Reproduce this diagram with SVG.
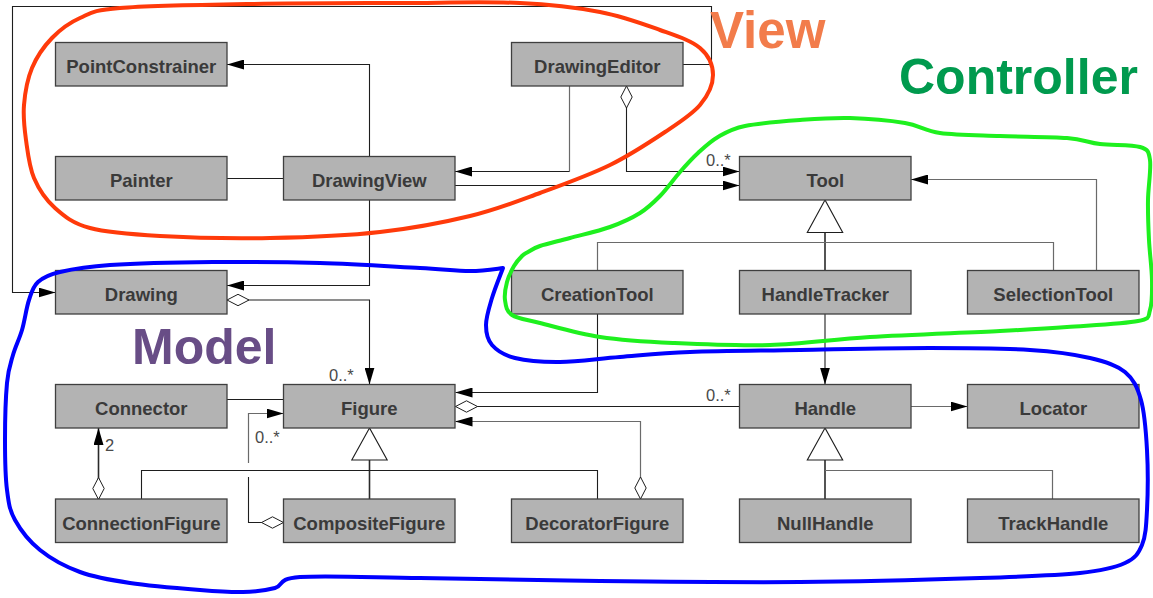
<svg xmlns="http://www.w3.org/2000/svg" width="1153" height="598" viewBox="0 0 1153 598">
  <defs>
    <style>
      .node rect { fill: #b3b3b3; stroke: #3f3f3f; stroke-width: 1.3; }
      .node text { font-family: "Liberation Sans", Arial, sans-serif; font-weight: bold; font-size: 18.5px; fill: #3a3a3a; text-anchor: middle; }
      .ln { fill: none; stroke: #1e1e1e; stroke-width: 1.1; }
      .gr { fill: none; stroke: #6a6a6a; stroke-width: 1.2; }
      .stem { fill: none; stroke: #2a2a2a; stroke-width: 1.6; }
      .tri { fill: #ffffff; stroke: #1e1e1e; stroke-width: 1.1; }
      .mult { font-family: "Liberation Sans", Arial, sans-serif; font-size: 16.5px; fill: #4a4a4a; }
      .arrow { marker-end: url(#head); }
      .agg { marker-start: url(#diamond); }
      .loop { fill: none; stroke-width: 4; stroke-linecap: round; stroke-linejoin: round; }
      .tag { font-family: "Liberation Sans", Arial, sans-serif; font-weight: bold; }
    </style>
    <marker id="head" viewBox="0 0 17 10" refX="17" refY="5" markerWidth="17" markerHeight="10" markerUnits="userSpaceOnUse" orient="auto">
      <path d="M0,0 L17,5 L0,10 Z" fill="#000000"/>
    </marker>
    <marker id="diamond" viewBox="-1 -1 24 14" refX="0" refY="6" markerWidth="24" markerHeight="14" markerUnits="userSpaceOnUse" orient="auto">
      <path d="M0,6 L11,0.3 L22,6 L11,11.7 Z" fill="#ffffff" stroke="#1e1e1e" stroke-width="1"/>
    </marker>
  </defs>

  <rect x="0" y="0" width="1153" height="598" fill="#ffffff"/>

  <!-- associations, aggregations and generalizations -->
  <g id="connectors">
    <!-- DrawingEditor to Drawing, routed around the top -->
    <path class="ln arrow" d="M683,64.5 H711.5 V6.5 H12.5 V292.5 H55.5"/>
    <!-- DrawingView to PointConstrainer -->
    <path class="ln arrow" d="M369.5,156.5 V64.5 H227"/>
    <!-- Painter to DrawingView -->
    <path class="ln" d="M227,178.5 H283.5"/>
    <!-- DrawingEditor to DrawingView -->
    <path class="gr" d="M569.5,86 V171.5"/>
    <path class="ln arrow" d="M569.5,171.5 H455"/>
    <!-- DrawingEditor aggregates Tool -->
    <path class="ln agg arrow" d="M626.5,86 V171.5 H739.5"/>
    <text class="mult" x="706" y="166">0..*</text>
    <!-- DrawingView to Tool -->
    <path class="ln arrow" d="M455,185.5 H739.5"/>
    <!-- SelectionTool to Tool -->
    <path class="gr arrow" d="M1096.5,270.5 V179.5 H911"/>
    <!-- Tool generalization -->
    <polygon class="tri" points="825,200 807.3,232.5 842.7,232.5"/>
    <path class="stem" d="M825,232.5 V270.5"/>
    <path class="gr" d="M597.5,270.5 V242.5 H1053.5 V270.5"/>
    <!-- HandleTracker to Handle -->
    <path class="ln arrow" d="M825,314 V384.5"/>
    <!-- CreationTool to Figure -->
    <path class="ln arrow" d="M597.5,314 V392.5 H455.5"/>
    <!-- Drawing aggregates Figure -->
    <path class="ln agg arrow" d="M227,300 H369.5 V384.5"/>
    <text class="mult" x="329" y="381">0..*</text>
    <!-- DrawingView to Drawing -->
    <path class="ln arrow" d="M369.5,200 V285.5 H227"/>
    <!-- Connector to Figure -->
    <path class="ln" d="M227,399.5 H283.5"/>
    <!-- Figure aggregates Handle -->
    <path class="ln agg" d="M455.5,406.5 H739.5"/>
    <text class="mult" x="706" y="401">0..*</text>
    <!-- Handle to Locator -->
    <path class="gr arrow" d="M910.5,406.5 H967.5"/>
    <!-- DecoratorFigure aggregates Figure -->
    <path class="gr agg" d="M640.5,499 V421.5 H470"/>
    <path class="ln arrow" d="M470,421.5 H455.5"/>
    <!-- Figure generalization -->
    <polygon class="tri" points="369.5,428 351.8,460 387.2,460"/>
    <path class="stem" d="M369.5,460 V499"/>
    <path class="ln" d="M141.5,499 V470.5 H597.5 V499"/>
    <!-- Handle generalization -->
    <polygon class="tri" points="825,428 807.3,460 842.7,460"/>
    <path class="stem" d="M825,460 V499"/>
    <path class="gr" d="M825,470.5 H1052.5 V499"/>
    <!-- CompositeFigure aggregates Figure (line jumps the generalization bus) -->
    <path class="ln agg" d="M283.5,522.5 H248.5 V477"/>
    <path class="gr arrow" d="M248.5,463 V413.5 H283.5"/>
    <text class="mult" x="255" y="443">0..*</text>
    <!-- ConnectionFigure aggregates Connector -->
    <path class="stem agg arrow" d="M98.5,499.5 V428"/>
    <text class="mult" x="105" y="451">2</text>
  </g>

  <!-- classes -->
  <g id="PointConstrainer" class="node"><rect x="55.5" y="42.5" width="171.5" height="43.5"/><text x="141.3" y="73">PointConstrainer</text></g>
  <g id="DrawingEditor" class="node"><rect x="511.5" y="42.5" width="171.5" height="43.5"/><text x="597.3" y="73">DrawingEditor</text></g>
  <g id="Painter" class="node"><rect x="55.5" y="156.5" width="171.5" height="43.5"/><text x="141.3" y="187">Painter</text></g>
  <g id="DrawingView" class="node"><rect x="283.5" y="156.5" width="171.5" height="43.5"/><text x="369.3" y="187">DrawingView</text></g>
  <g id="Tool" class="node"><rect x="739.5" y="156.5" width="171.5" height="43.5"/><text x="825.3" y="187">Tool</text></g>
  <g id="Drawing" class="node"><rect x="55.5" y="270.5" width="171.5" height="43.5"/><text x="141.3" y="301">Drawing</text></g>
  <g id="CreationTool" class="node"><rect x="511.5" y="270.5" width="171.5" height="43.5"/><text x="597.3" y="301">CreationTool</text></g>
  <g id="HandleTracker" class="node"><rect x="739.5" y="270.5" width="171.5" height="43.5"/><text x="825.3" y="301">HandleTracker</text></g>
  <g id="SelectionTool" class="node"><rect x="967.5" y="270.5" width="171.5" height="43.5"/><text x="1053.3" y="301">SelectionTool</text></g>
  <g id="Connector" class="node"><rect x="55.5" y="384.5" width="171.5" height="43.5"/><text x="141.3" y="415">Connector</text></g>
  <g id="Figure" class="node"><rect x="283.5" y="384.5" width="171.5" height="43.5"/><text x="369.3" y="415">Figure</text></g>
  <g id="Handle" class="node"><rect x="739.5" y="384.5" width="171.5" height="43.5"/><text x="825.3" y="415">Handle</text></g>
  <g id="Locator" class="node"><rect x="967.5" y="384.5" width="171.5" height="43.5"/><text x="1053.3" y="415">Locator</text></g>
  <g id="ConnectionFigure" class="node"><rect x="55.5" y="499" width="171.5" height="43.5"/><text x="141.3" y="529.5">ConnectionFigure</text></g>
  <g id="CompositeFigure" class="node"><rect x="283.5" y="499" width="171.5" height="43.5"/><text x="369.3" y="529.5">CompositeFigure</text></g>
  <g id="DecoratorFigure" class="node"><rect x="511.5" y="499" width="171.5" height="43.5"/><text x="597.3" y="529.5">DecoratorFigure</text></g>
  <g id="NullHandle" class="node"><rect x="739.5" y="499" width="171.5" height="43.5"/><text x="825.3" y="529.5">NullHandle</text></g>
  <g id="TrackHandle" class="node"><rect x="967.5" y="499" width="171.5" height="43.5"/><text x="1053.3" y="529.5">TrackHandle</text></g>

  <!-- hand-drawn MVC groupings -->
  <g id="view-group">
    <path class="loop" stroke="#ff3a0a" d="M120,8 C148.3,5.7 203.3,4.8 250,4 S355,3.2 400,3 S486.7,1.5 520,3 S576.7,7.5 600,12 S643.3,24 660,30 S691.2,40.5 700,48 S713,65.5 713,75 S708,95.5 700,105 S680,122 665,132 S630.8,154.8 610,165 S563.3,184.5 540,193 S496.7,209.5 470,216 S413.3,228.3 380,232 S306.7,237.3 270,238 S190,237.7 160,236 S107.5,232.7 90,228 S64.3,216.3 55,208 S38.8,189.3 34,178 S27.7,152.2 26,140 S23,117 24,105 S27.3,79.2 32,68 S44,46.3 52,38 S68.7,23 80,18 S91.7,10.3 120,8 Z"/>
    <text class="tag" x="710" y="48" font-size="51" fill="#f27c4b">View</text>
  </g>
  <g id="controller-group">
    <path class="loop" stroke="#1ef01e" d="M745,126 C758.7,123.2 782.5,121.3 800,120 S832.5,117.5 850,118 S890,120.5 905,123 S924.2,130.8 940,133 S978.8,135.2 1000,136 S1050.3,136.7 1067,138 S1087.8,142.5 1100,144 S1131.7,144.3 1140,147 S1148.7,151.2 1150,160 S1148.2,186.7 1148,200 S1148.3,226.7 1149,240 S1151.8,268.3 1152,280 S1152.3,303.2 1150,310 S1151.8,318.2 1138,321 S1090,325.3 1067,327 S1032.8,329.3 1000,331 S908.3,334.7 870,337 S802.8,344 770,345 S701.3,344.3 673,343 S622.2,340.3 600,337 S554.7,326.7 540,323 S517.8,318.8 512,315 S505.8,305.5 505,300 S505.5,287.7 507,282 S511.5,270.3 514,266 S519.7,258.3 522,256 S525,253.7 528,252 S533,248.3 540,246 S558.3,241.2 570,238 S598.3,231.2 610,227 S631.7,218.2 640,213 S653.3,202.8 660,196 S673.7,179.2 680,172 S691.7,158.8 698,153 S710.2,141.5 718,137 S731.3,128.8 745,126 Z"/>
    <text class="tag" x="899" y="94" font-size="50" fill="#009a4e">Controller</text>
  </g>
  <g id="model-group">
    <path class="loop" stroke="#0000ff" d="M7,383 C8.3,368.8 10.5,363.8 13,355 S19.3,339.2 22,330 S26.3,308 29,300 S32.8,286.7 38,282 S48,274.8 60,272 S84.5,266.7 110,265 S178,262.3 213,262 S285.5,262 320,263 S395,266.7 420,268 S456.2,271 470,271 S495,269 503,268 C500,276 494.8,288.5 492,298 S486,317.2 486,325 S487.2,339.5 492,345 S503.7,355.2 515,358 S542.5,362.2 560,362 S598.3,358.7 620,357 S660,353.2 690,352 S760,350.7 800,350 S891.7,348 930,348 S1003.3,348.3 1030,350 S1074.2,354.3 1090,358 S1116.5,365 1125,372 S1137.3,387 1141,400 S1146,431.7 1147,450 S1147.8,494.2 1147,510 S1145.7,536.2 1142,545 S1135.3,558.3 1125,563 S1104.2,570.5 1080,573 S1026.7,576.5 980,578 S863.3,581.5 800,582 S663.3,581.7 600,581 S470,578.7 420,578 S324.2,575.3 300,577 S284.5,585.5 275,588 S255.5,591.7 243,592 S218.8,591.5 200,590 S150,586 130,583 S95,577.5 80,572 S50.8,558.7 40,550 S20.5,530 15,520 S8.7,503.3 7,490 S5,457.8 5,440 S5.7,397.2 7,383 Z"/>
    <text class="tag" x="132" y="364" font-size="50" fill="#684d86">Model</text>
  </g>
</svg>
